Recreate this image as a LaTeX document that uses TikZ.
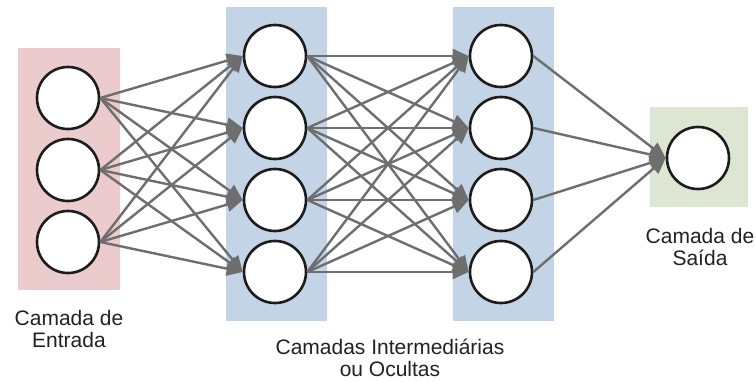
\documentclass[tikz,border=0pt]{standalone}
\usepackage{fontspec}
\setmainfont{Liberation Sans}
\usetikzlibrary{arrows.meta}
\definecolor{pinkbg}{HTML}{EBCBCB}
\definecolor{bluebg}{HTML}{C3D4E6}
\definecolor{greenbg}{HTML}{DCE6D2}
\definecolor{edgegray}{HTML}{6E6E6E}
\definecolor{ringcol}{HTML}{1C1C1C}
\definecolor{textcol}{HTML}{222222}
\begin{document}
\begin{tikzpicture}[x=1pt,y=-1pt,
  neuron/.style={circle, draw=ringcol, line width=2.6pt, fill=white, minimum size=62pt, inner sep=0pt},
  conn/.style={draw=edgegray, line width=2.4pt, -{Triangle[length=16pt,width=14pt]}},
  lbl/.style={align=center, font=\fontsize{21}{21.5}\selectfont, text=textcol, inner sep=0pt, anchor=base}]
\useasboundingbox (0,0) rectangle (756,381);
\fill[white] (0,0) rectangle (756,381);
\fill[pinkbg] (18,48) rectangle (120,290);
\fill[bluebg] (226,7) rectangle (327,321);
\fill[bluebg] (453,7) rectangle (554,321);
\fill[greenbg] (650,107) rectangle (748,207);
\foreach \i/\y in {1/98,2/170,3/242}
  \node[neuron] (i\i) at (68,\y) {};
\foreach \j/\y in {1/56,2/128,3/200,4/272} {
  \node[neuron] (a\j) at (275,\y) {};
  \node[neuron] (b\j) at (501,\y) {};
}
\node[neuron] (o) at (698,158) {};
\foreach \i in {1,2,3}
  \foreach \j in {1,2,3,4}
    \draw[conn] (i\i.east) -- (a\j.west);
\foreach \i in {1,2,3,4}
  \foreach \j in {1,2,3,4}
    \draw[conn] (a\i.east) -- (b\j.west);
\foreach \i in {1,2,3,4}
  \draw[conn] (b\i.east) -- (o.west);
\node[lbl] (l1) at (69,347) {Camada de\\Entrada};
\node[lbl] (l2) at (390,376) {Camadas Intermediárias\\ou Ocultas};
\node[lbl] (l3) at (700,265) {Camada de\\Saída};
\end{tikzpicture}
\end{document}
